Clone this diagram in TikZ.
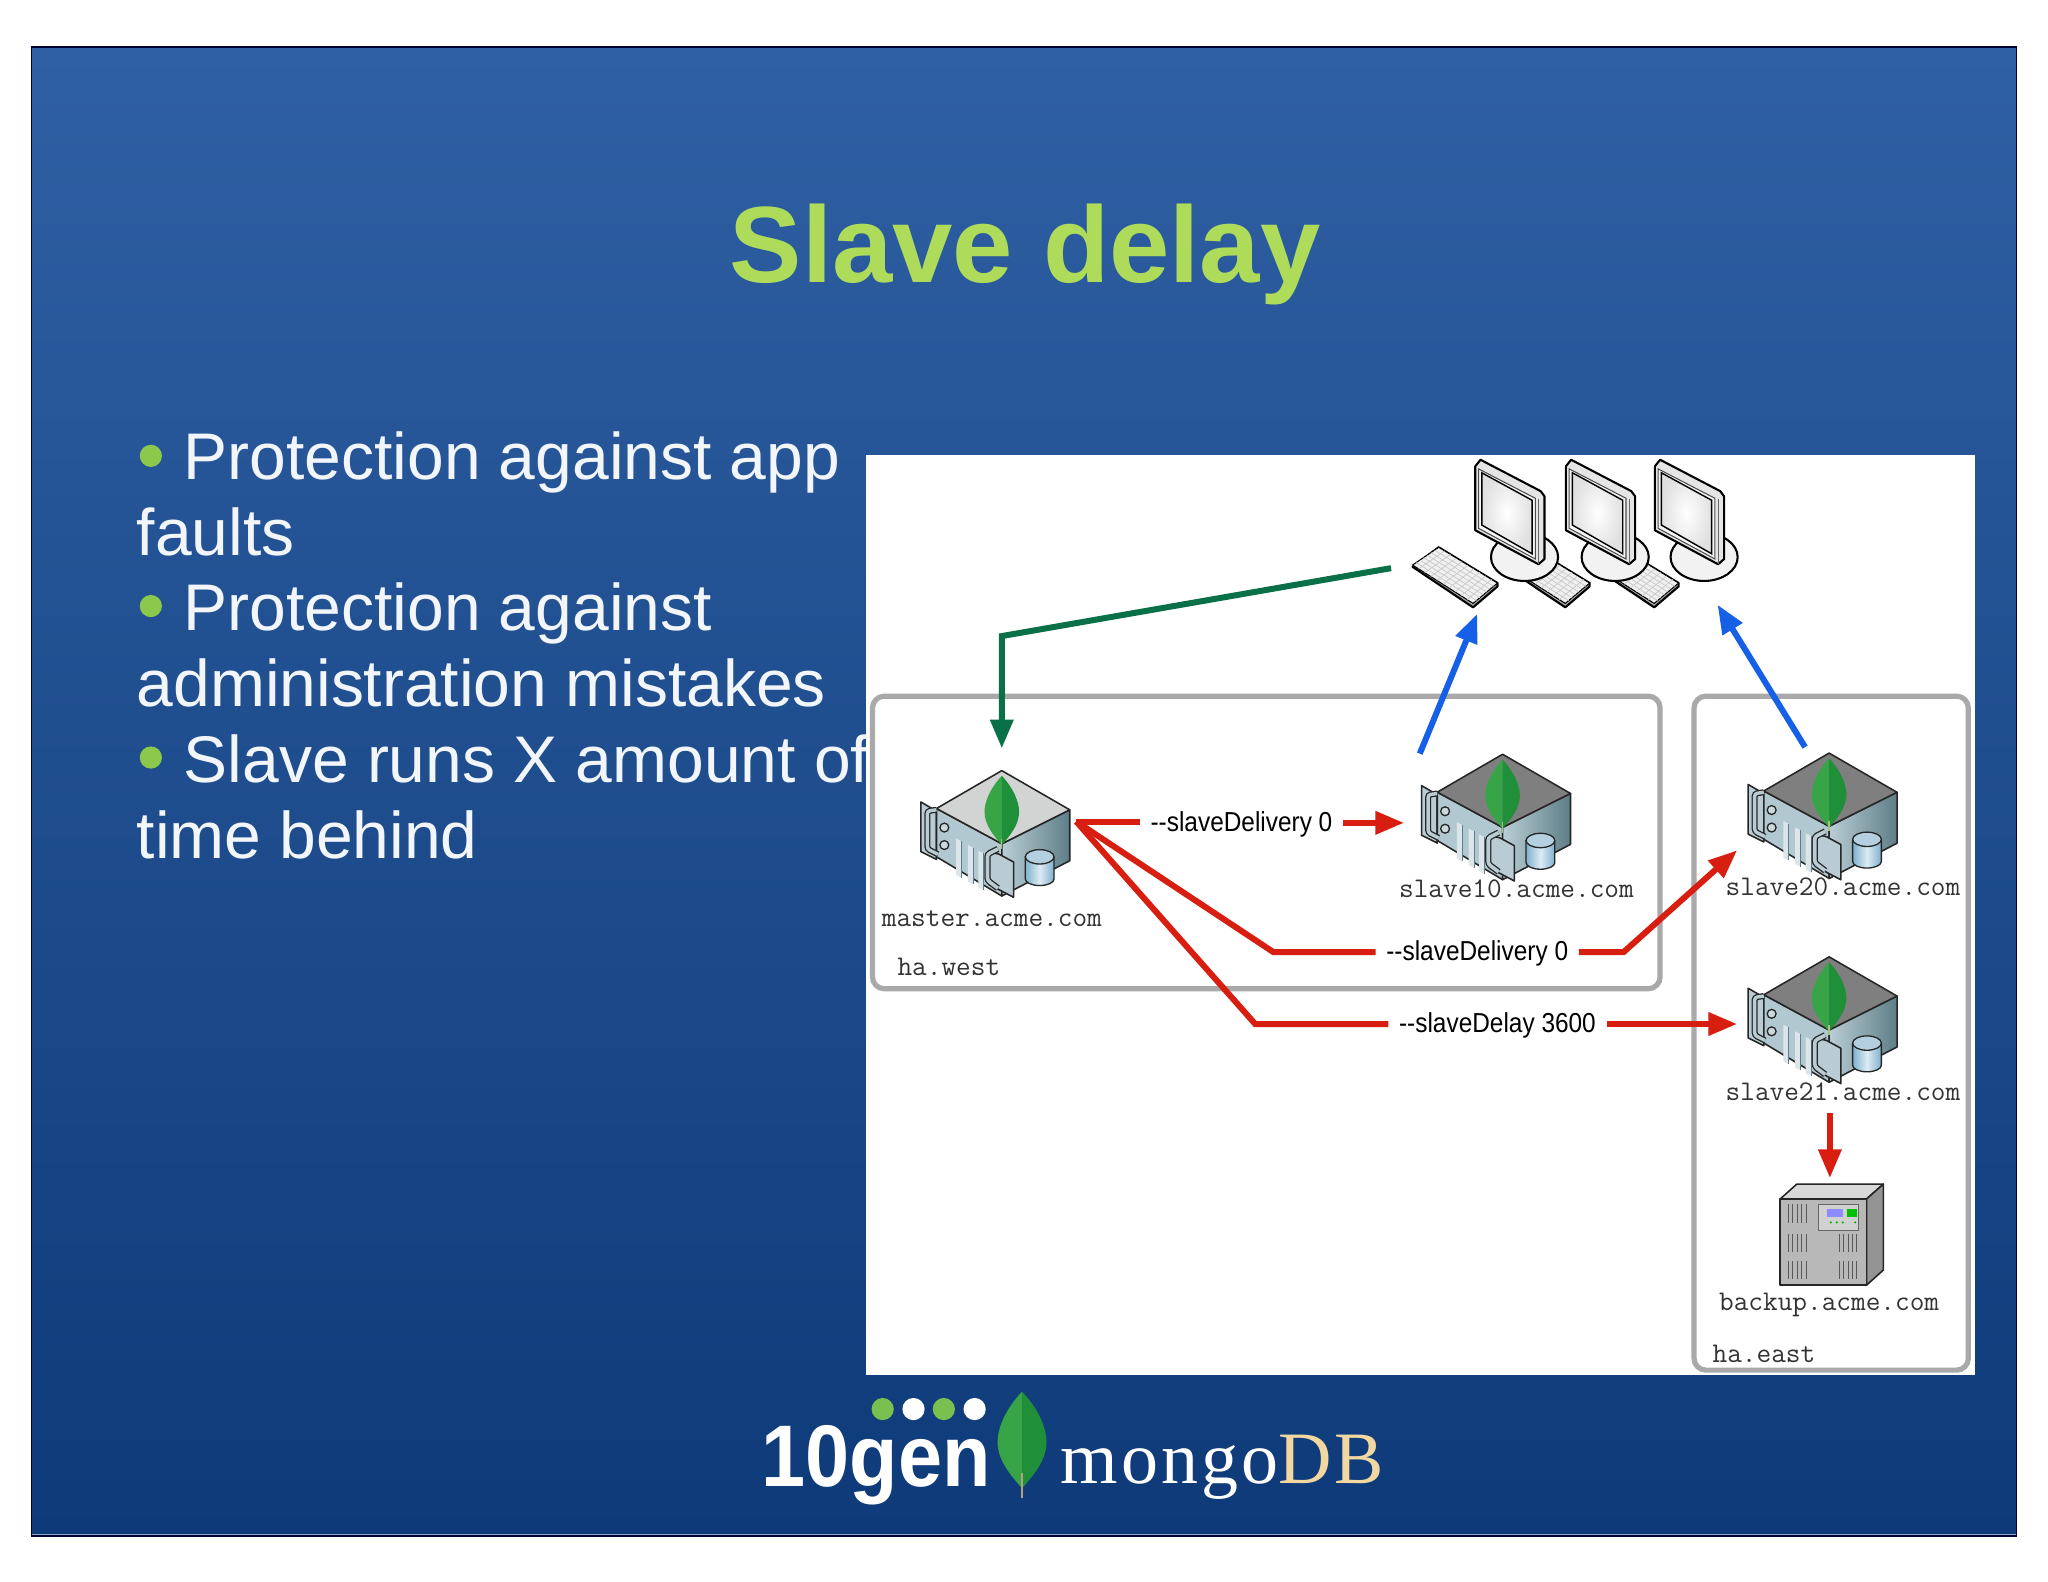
\documentclass[tikz,border=0pt]{standalone}
\usepackage{fontspec}
\usepackage{graphicx}
\setmainfont{Liberation Sans}
\newfontfamily\logoserif[LetterSpace=4]{Liberation Serif}
\usetikzlibrary{arrows.meta,shapes.geometric}
\newcommand\optnarrow[1]{\scalebox{.89}[1]{#1}}
\definecolor{titlegreen}{HTML}{AEDC5A}
\definecolor{bulletgreen}{HTML}{8CC84B}
\definecolor{bodywhite}{HTML}{F2F5F9}
\definecolor{bgtop}{HTML}{2F60A3}
\definecolor{bgbot}{HTML}{0E3A79}
\definecolor{boxgray}{HTML}{A9A9A9}
\definecolor{redline}{HTML}{D81E10}
\definecolor{blueline}{HTML}{1660E8}
\definecolor{greenline}{HTML}{0A7048}
\definecolor{leafL}{HTML}{36A447}
\definecolor{leafR}{HTML}{1F8F3A}
\definecolor{srvL}{HTML}{B2C8D0}
\definecolor{srvD}{HTML}{5E7E88}
\definecolor{srvEar}{HTML}{B9CCD3}
\definecolor{tan}{HTML}{F3D7A0}
\definecolor{dotgreen}{HTML}{7AC050}
\definecolor{topLight}{HTML}{D2D4D4}
\definecolor{topDark}{HTML}{7F7F7F}
\definecolor{cylside}{HTML}{7FB0CC}
\definecolor{cylmid}{HTML}{DCEBF4}
\definecolor{cyltop}{HTML}{B4D0E0}
\definecolor{lightrule}{HTML}{8DA4C4}
\tikzset{
  x=1pt,y=-1pt,
  hostlabel/.style={anchor=base west,inner sep=0pt,text=black!80,font=\ttfamily\fontsize{21.8}{24}\selectfont},
  optlabel/.style={inner sep=8pt,text=black,font=\fontsize{21}{24}\selectfont},
  bodyline/.style={anchor=base west,inner sep=0pt,text=bodywhite,font=\fontsize{50.5}{58}\selectfont},
  bulletdot/.style={circle,fill=bulletgreen,inner sep=0pt,minimum size=17pt},
  groupbox/.style={draw=boxgray,line width=4pt,rounded corners=9pt},
  redwire/.style={draw=redline,line width=4.6pt},
  redarrow/.style={redwire,-{Triangle[length=22pt,width=17pt]}},
  bluearrow/.style={draw=blueline,line width=4.6pt,-{Triangle[length=22pt,width=17pt]}},
  greenarrow/.style={draw=greenline,line width=4.6pt,-{Triangle[length=22pt,width=17pt]}},
  edge/.style={draw=black!85,line width=1.2pt,line join=round},
  pics/leaf/.style={code={
    \fill[leafL] (0,0) .. controls (-.17,.18) and (-.25,.38) .. (-.25,.52) .. controls (-.25,.72) and (-.1,.88) .. (0,1) -- cycle;
    \fill[leafR] (0,0) .. controls (.17,.18) and (.25,.38) .. (.25,.52) .. controls (.25,.72) and (.1,.88) .. (0,1) -- cycle;
  }},
  pics/server/.style={code={
    \coordinate (-centre) at (0,50);
    \draw[edge,fill=srvEar] (-62,24) -- (-50,31) -- (-50,68) -- (-62,62) -- cycle;
    \draw[edge,fill=srvL] (-50,29) -- (0,56) -- (0,96) -- (-50,66) -- cycle;
    \draw[edge,left color=srvL!90!white,right color=srvD] (0,56) -- (52,30) -- (52,69) -- (0,96) -- cycle;
    \draw[edge,fill=#1] (0,0) -- (52,30) -- (0,56) -- (-50,29) -- cycle;
    \draw[draw=black!85,double=srvEar,double distance=2.6pt,line width=1pt,rounded corners=2pt] (-50,30) -- (-57,31) -- (-57,60) -- (-49,64);
    \draw[draw=black!85,line width=1pt,fill=srvL!70!white] (-44,43.6) circle[radius=3.4];
    \draw[draw=black!85,line width=1pt,fill=srvL!70!white] (-44,57) circle[radius=3.4];
    \foreach \sx in {-35,-26,-18}{
      \fill[srvL!45!white] (\sx,{52+(\sx+35)*.55}) -- ({\sx+4},{54+(\sx+35)*.55}) -- ({\sx+4},{82+(\sx+35)*.55}) -- (\sx,{80+(\sx+35)*.55}) -- cycle;
      \draw[draw=srvD,line width=.5pt] ({\sx+4},{54+(\sx+35)*.55}) -- ({\sx+4},{82+(\sx+35)*.55});
    }
    \draw[edge,fill=srvEar] (-2,64) -- (9,70) -- (9,97) -- (-10,87) -- (-10,62) -- cycle;
    \draw[draw=black!85,double=srvEar,double distance=2.8pt,line width=1pt,rounded corners=2pt] (-3,60) -- (-11,64) -- (-11,84) -- (-3,90);
    \draw[edge,line width=1pt,left color=cylside,right color=cylside,middle color=cylmid] (18,66) -- (18,83) arc[start angle=180,end angle=0,x radius=11,y radius=5] -- (40,66) -- cycle;
    \draw[edge,line width=1pt,fill=cyltop] (29,66) ellipse[x radius=11,y radius=5.5];
    \pic[xscale=53,yscale=53] at (0,4) {leaf};
    \draw[draw=tan!60!leafL,line width=1pt] (0,52) -- (0,60);
  }},
  pics/monitor/.style={code={
    \draw[draw=black,line width=1.6pt,fill=white!95!black] (37.7,74.5) ellipse[x radius=25.7,y radius=18.3];
    \draw[draw=black,line width=1.6pt,line join=round,fill=white!90!black] (0,5) -- (4,0) -- (50,24) -- (53,28) -- (53,76) -- (48.4,80) -- (0,54) -- cycle;
    \draw[draw=black!60,line width=.8pt] (48.4,30) -- (48.4,80);
    \draw[draw=black!70,line width=.8pt,fill=white!96!black] (2.5,7) -- (46,29.5) -- (46,76) -- (2.5,52.5) -- cycle;
    \draw[draw=black,line width=1.1pt,inner color=white,outer color=black!12!white] (5,10) -- (43.5,31) -- (43.5,72) -- (5,50) -- cycle;
  }},
  pics/keyboard/.style={code={
    \draw[draw=black,line width=1.6pt,line join=round,fill=black!35] (-48,82) -- (-28,67) -- (17,94.4) -- (17,97) -- (-1.7,113) -- cycle;
    \draw[draw=black,line width=.8pt,fill=white!94!black] (-48,80.6) -- (-28,67) -- (17,94.4) -- (-1.7,110) -- cycle;
    \foreach \t in {.14,.28,.42,.56,.70,.84}{
      \draw[draw=black!22,line width=.5pt] ({-48+\t*20},{80.6-\t*13.6}) -- ({-1.7+\t*18.7},{110-\t*15.6});
    }
    \foreach \t in {.1,.2,.3,.4,.5,.6,.7,.8,.9}{
      \draw[draw=black!22,line width=.5pt] ({-48+\t*46.3},{80.6+\t*29.4}) -- ({-28+\t*45},{67+\t*27.4});
    }
  }},
}
\begin{document}
\begin{tikzpicture}
\useasboundingbox (0,0) rectangle (1568,1211.2);
\fill[white] (0,0) rectangle (1568,1211.2);
\shade[top color=bgtop,bottom color=bgbot] (24,36) rectangle (1544,1176);
\draw[draw=black!80!blue,line width=.9pt] (24,36) rectangle (1544,1176);
\draw[draw=lightrule,line width=.8pt] (24.5,1174.8) -- (1543.5,1174.8);
\node[anchor=base,inner sep=0pt,text=titlegreen,font=\bfseries\fontsize{83}{90}\selectfont] (title) at (785,216) {Slave delay};
\node[bulletdot] (b1) at (115.5,349) {};
\node[bulletdot] (b2) at (115.5,464) {};
\node[bulletdot] (b3) at (115.5,580) {};
\node[bodyline] (l1) at (140.5,367) {Protection against app};
\node[bodyline] (l2) at (104.5,425) {faults};
\node[bodyline] (l3) at (140.5,483) {Protection against};
\node[bodyline] (l4) at (104.5,541) {administration mistakes};
\node[bodyline] (l5) at (140.5,599) {Slave runs X amount of};
\node[bodyline] (l6) at (104.5,657) {time behind};
\fill[white] (663,348) rectangle (1512,1052.5);
\draw[groupbox] (668,533) rectangle (1271,757);
\draw[groupbox] (1297,533) rectangle (1507,1049);
\pic at (1129.5+138.7,352) {keyboard};
\pic at (1129.5+70.6,352) {keyboard};
\pic at (1129.5,352) {keyboard};
\pic (mon3) at (1267,352) {monitor};
\pic (mon2) at (1198.9,352) {monitor};
\pic (mon1) at (1129.5,352) {monitor};
\pic (master) at (767,590) {server=topLight};
\pic (slaveten) at (1150.4,577.5) {server=topDark};
\pic (slavetwenty) at (1400.4,576.6) {server=topDark};
\pic (slavetwentyone) at (1400.4,732.6) {server=topDark};
\draw[edge,fill=black!15] (1362.9,918) -- (1375.6,906.6) -- (1441.9,906.6) -- (1429,918) -- cycle;
\draw[edge,fill=black!42] (1429,918) -- (1441.9,906.6) -- (1441.9,972.4) -- (1429,984) -- cycle;
\draw[edge,fill=black!28] (1362.9,918) rectangle (1429,984);
\draw[draw=black!60,line width=.7pt,fill=black!18] (1392,922) rectangle (1422.8,942);
\fill[blue!45!white] (1398.6,925.9) rectangle (1411,931.6);
\fill[green!75!black] (1413.9,925.9) rectangle (1421.6,931.6);
\foreach \dx in {1401.7,1406.3,1410.9,1420.3}{\fill[green!70!black] (\dx,935.9) circle[radius=.9];}
\foreach \vx/\vt/\vb in {1369.2/922/936,1369.2/945/958.4,1369.2/965.5/979.5,1408/945/958.4,1408/965.5/979.5}{
  \foreach \k in {0,3.4,6.8,10.2,13.6}{\draw[draw=black!65,line width=.6pt] ({\vx+\k},\vt) -- ({\vx+\k},\vb);}
}
\node[hostlabel] (lmaster) at (675,709) {master.acme.com};
\node[hostlabel] (lwest) at (687,746.5) {ha.west};
\node[hostlabel] (lten) at (1071,687.5) {slave10.acme.com};
\node[hostlabel] (ltwenty) at (1321,685.5) {slave20.acme.com};
\node[hostlabel] (ltwentyone) at (1321,842.5) {slave21.acme.com};
\node[hostlabel] (lbackup) at (1316,1003.5) {backup.acme.com};
\node[hostlabel] (least) at (1311,1043) {ha.east};
\node[optlabel] (opt1) at (950.5,631) {\optnarrow{-{}-slaveDelivery 0}};
\node[optlabel] (opt2) at (1131,730) {\optnarrow{-{}-slaveDelivery 0}};
\node[optlabel] (opt3) at (1146.5,785) {\optnarrow{-{}-slaveDelay 3600}};
\coordinate (srcred) at (824,629);
\coordinate (into-ten) at (1075,630);
\coordinate (into-twenty) at (1330,651);
\coordinate (into-twentyone) at (1330,784);
\coordinate (bend2) at (975,729);
\coordinate (bend2b) at (1243,729);
\coordinate (bend3) at (961,784);
\coordinate (out-twentyone) at (1401,852);
\coordinate (into-backup) at (1401,902);
\coordinate (green-start) at (1065,435);
\coordinate (green-bend) at (767,487);
\coordinate (into-master) at (767,573);
\coordinate (ten-out) at (1087,577);
\coordinate (ten-client) at (1131,470);
\coordinate (twenty-out) at (1382,572);
\coordinate (twenty-client) at (1315,463);
\draw[greenarrow] (green-start) -- (green-bend) -- (into-master);
\draw[bluearrow] (ten-out) -- (ten-client);
\draw[bluearrow] (twenty-out) -- (twenty-client);
\draw[redwire] (srcred) -- (srcred -| opt1.west);
\draw[redarrow] (opt1.east |- into-ten) -- (into-ten);
\draw[redwire] (srcred) -- (bend2) -- (bend2 -| opt2.west);
\draw[redarrow] (bend2b -| opt2.east) -- (bend2b) -- (into-twenty);
\draw[redwire] (srcred) -- (bend3) -- (bend3 -| opt3.west);
\draw[redarrow] (into-twentyone -| opt3.east) -- (into-twentyone);
\draw[redarrow] (out-twentyone) -- (into-backup);
\node[anchor=base west,inner sep=0pt,text=white,font=\bfseries\fontsize{67}{70}\selectfont] (tengen) at (583,1138) {\scalebox{.905}[1]{10gen}};
\node[circle,inner sep=0pt,minimum size=17pt,fill=dotgreen] (d1) at (675.8,1078.8) {};
\node[circle,inner sep=0pt,minimum size=17pt,fill=white] (d2) at (699.4,1078.8) {};
\node[circle,inner sep=0pt,minimum size=17pt,fill=dotgreen] (d3) at (722.6,1078.8) {};
\node[circle,inner sep=0pt,minimum size=17pt,fill=white] (d4) at (746.2,1078.8) {};
\pic[xscale=75,yscale=74] at (782.5,1065.5) {leaf};
\draw[draw=black!25!tan,line width=1.6pt] (782.5,1128) -- (782.5,1147);
\node[anchor=base west,inner sep=0pt,font=\logoserif\fontsize{56.6}{60}\selectfont] (mongodb) at (812,1135.5) {\textcolor{white}{mongo}\textcolor{tan}{DB}};
\end{tikzpicture}
\end{document}
